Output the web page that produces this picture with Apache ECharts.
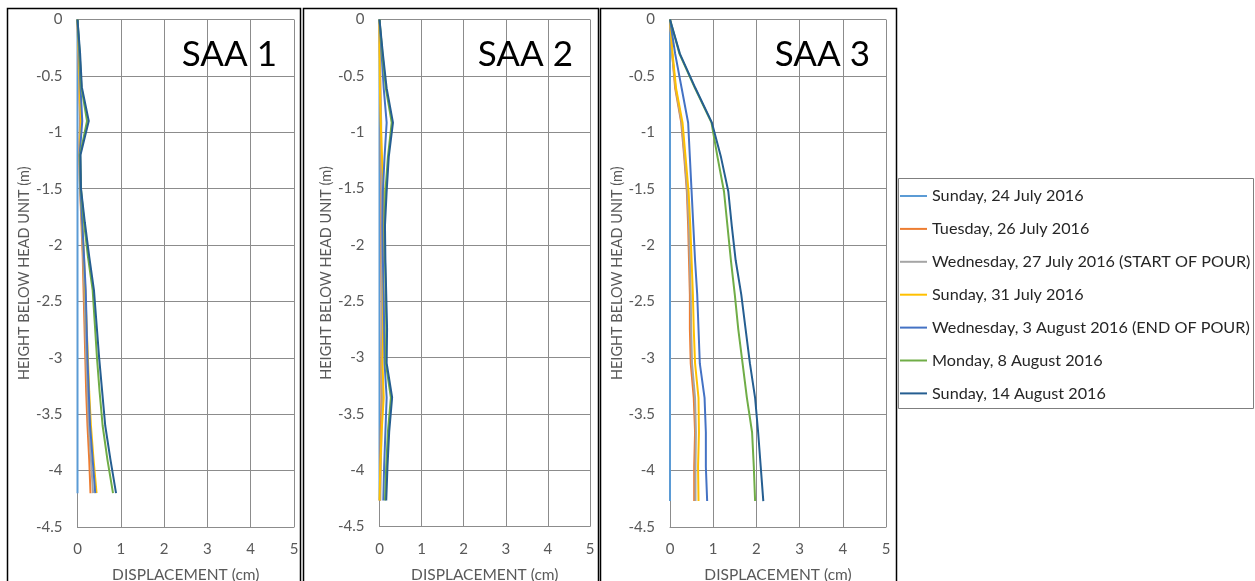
<!DOCTYPE html>
<html>
<head>
<meta charset="utf-8">
<title>SAA displacement profiles</title>
<script src="https://cdn.jsdelivr.net/npm/echarts@6/dist/echarts.min.js"></script>
<style>
  html, body { margin: 0; padding: 0; background: #fff; }
  #chart { width: 1255px; height: 581px; }
</style>
</head>
<body>
<div id="chart"></div>
<script>
// reading dates (legend)
const dateNames = [
  'Sunday, 24 July 2016',
  'Tuesday, 26 July 2016',
  'Wednesday, 27 July 2016 (START OF POUR)',
  'Sunday, 31 July 2016',
  'Wednesday, 3 August 2016 (END OF POUR)',
  'Monday, 8 August 2016',
  'Sunday, 14 August 2016'
];

// depth of each node (m)
const depthsSAA1 = [0, -0.3, -0.6, -0.9, -1.2, -1.5, -1.8, -2.1, -2.4, -2.7, -3.0, -3.3, -3.6, -3.9, -4.2];
const depthsSAA2 = [0, -0.305, -0.61, -0.915, -1.22, -1.525, -1.83, -2.135, -2.44, -2.745, -3.05, -3.355, -3.66, -3.965, -4.27];
const depthsSAA3 = [0, -0.305, -0.61, -0.915, -1.22, -1.525, -1.83, -2.135, -2.44, -2.745, -3.05, -3.355, -3.66, -3.965, -4.27];

// displacement (cm), one row per date, same order as dateNames
const saa1 = [
  [0, 0, 0, 0, 0, 0, 0, 0, 0, 0, 0, 0, 0, 0, 0],
  [0, 0.02, 0.04, 0.06, 0.04, 0.06, 0.09, 0.12, 0.14, 0.16, 0.18, 0.20, 0.23, 0.27, 0.30],
  [0, 0.02, 0.04, 0.07, 0.04, 0.06, 0.10, 0.13, 0.16, 0.18, 0.20, 0.23, 0.26, 0.31, 0.36],
  [0, 0.03, 0.05, 0.08, 0.05, 0.07, 0.11, 0.15, 0.18, 0.21, 0.24, 0.27, 0.31, 0.37, 0.44],
  [0, 0.04, 0.07, 0.11, 0.05, 0.07, 0.11, 0.15, 0.19, 0.21, 0.23, 0.26, 0.29, 0.35, 0.41],
  [0, 0.05, 0.09, 0.22, 0.06, 0.08, 0.15, 0.24, 0.35, 0.40, 0.45, 0.51, 0.58, 0.69, 0.82],
  [0, 0.06, 0.10, 0.26, 0.07, 0.08, 0.17, 0.27, 0.38, 0.44, 0.50, 0.57, 0.64, 0.76, 0.89]
];
const saa2 = [
  [0, 0, 0, 0, 0, 0, 0, 0, 0, 0, 0, 0, 0, 0, 0],
  [0, 0.01, 0.02, 0.03, 0.03, 0.04, 0.04, 0.04, 0.05, 0.05, 0.04, 0.05, 0.03, 0.02, 0.01],
  [0, 0.01, 0.02, 0.04, 0.04, 0.05, 0.05, 0.05, 0.06, 0.06, 0.05, 0.07, 0.05, 0.03, 0.02],
  [0, 0.00, 0.01, 0.03, 0.06, 0.10, 0.09, 0.08, 0.09, 0.09, 0.07, 0.10, 0.05, 0.02, 0.00],
  [0, 0.05, 0.10, 0.17, 0.12, 0.08, 0.07, 0.08, 0.10, 0.11, 0.12, 0.17, 0.14, 0.11, 0.09],
  [0, 0.07, 0.15, 0.29, 0.20, 0.14, 0.12, 0.13, 0.15, 0.16, 0.15, 0.27, 0.20, 0.16, 0.13],
  [0, 0.08, 0.17, 0.32, 0.22, 0.17, 0.13, 0.14, 0.16, 0.18, 0.17, 0.30, 0.23, 0.19, 0.16]
];
const saa3 = [
  [0, 0, 0, 0, 0, 0, 0, 0, 0, 0, 0, 0, 0, 0, 0],
  [0, 0.05, 0.12, 0.26, 0.33, 0.39, 0.42, 0.44, 0.46, 0.46, 0.48, 0.55, 0.58, 0.56, 0.56],
  [0, 0.05, 0.13, 0.27, 0.34, 0.40, 0.44, 0.46, 0.48, 0.49, 0.51, 0.58, 0.60, 0.59, 0.59],
  [0, 0.06, 0.14, 0.29, 0.36, 0.43, 0.47, 0.50, 0.53, 0.55, 0.58, 0.66, 0.67, 0.65, 0.66],
  [0, 0.12, 0.27, 0.42, 0.46, 0.50, 0.54, 0.58, 0.63, 0.66, 0.69, 0.80, 0.83, 0.83, 0.86],
  [0, 0.22, 0.58, 0.96, 1.10, 1.25, 1.33, 1.41, 1.50, 1.58, 1.68, 1.78, 1.90, 1.94, 1.97],
  [0, 0.23, 0.59, 0.97, 1.18, 1.35, 1.43, 1.52, 1.65, 1.75, 1.85, 1.97, 2.04, 2.10, 2.16]
];

const panelTitles = ['SAA 1', 'SAA 2', 'SAA 3'];

const lineColors = ['#5B9BD5', '#ED7D31', '#A5A5A5', '#FFC000', '#4472C4', '#70AD47', '#255E91'];
const font = 'Lato, "Open Sans", sans-serif';
const axisGray = '#595959';
const gridGray = '#8c8c8c';

let myChart = echarts.init(document.getElementById('chart'));

const grids = [
  {left: 77.5, top: 19.5, width: 216.5, height: 507.5, outerBoundsMode: 'none'},
  {left: 379.5, top: 19.5, width: 210.5, height: 507, outerBoundsMode: 'none'},
  {left: 670, top: 19.5, width: 216, height: 507.5, outerBoundsMode: 'none'}
];
const titleRight = [978, 682, 385];

const panels = [
  {depths: depthsSAA1, values: saa1},
  {depths: depthsSAA2, values: saa2},
  {depths: depthsSAA3, values: saa3}
];

let xAxes = [], yAxes = [], series = [], titles = [];
panels.forEach(function (p, i) {
  xAxes.push({
    type: 'value', gridIndex: i, min: 0, max: 5, interval: 1,
    name: 'DISPLACEMENT (cm)', nameLocation: 'middle', nameGap: 40,
    nameTextStyle: {color: axisGray, fontSize: 15.5, fontFamily: font},
    axisLine: {onZero: false, lineStyle: {color: gridGray}},
    axisTick: {show: false},
    axisLabel: {color: axisGray, fontSize: 15, fontFamily: font, margin: 15},
    splitLine: {lineStyle: {color: gridGray, width: 1}}
  });
  yAxes.push({
    type: 'value', gridIndex: i, min: -4.5, max: 0, interval: 0.5,
    name: 'HEIGHT BELOW HEAD UNIT (m)', nameLocation: 'middle', nameGap: 45,
    nameTextStyle: {color: axisGray, fontSize: 14.5, fontFamily: font},
    axisLine: {show: true, onZero: false, lineStyle: {color: gridGray}},
    axisTick: {show: false},
    axisLabel: {color: axisGray, fontSize: 15, fontFamily: font, margin: 15},
    splitLine: {lineStyle: {color: gridGray, width: 1}}
  });
  titles.push({
    text: panelTitles[i], right: titleRight[i], top: 37, padding: 0,
    textStyle: {fontSize: 35, fontWeight: 'normal', fontFamily: font, color: '#000'}
  });
  p.values.forEach(function (vals, k) {
    series.push({
      name: dateNames[k],
      type: 'line',
      xAxisIndex: i,
      yAxisIndex: i,
      symbol: 'none',
      lineStyle: {width: 2, color: lineColors[k]},
      itemStyle: {color: lineColors[k]},
      data: vals.map(function (v, j) { return [v, p.depths[j]]; })
    });
  });
});

let options = {
  animation: false,
  color: lineColors,
  title: titles,
  grid: grids,
  xAxis: xAxes,
  yAxis: yAxes,
  legend: {
    data: dateNames,
    orient: 'vertical',
    left: 900,
    top: 188,
    padding: 0,
    icon: 'rect',
    itemWidth: 27,
    itemHeight: 2,
    itemGap: 16.9,
    textStyle: {color: '#262626', fontSize: 16.2, fontFamily: font}
  },
  graphic: [
    {type: 'rect', shape: {x: 7.5, y: 8.5, width: 293, height: 620}, style: {fill: 'none', stroke: '#000', lineWidth: 1.5}},
    {type: 'rect', shape: {x: 303.5, y: 8.5, width: 295, height: 620}, style: {fill: 'none', stroke: '#000', lineWidth: 1.5}},
    {type: 'rect', shape: {x: 600.5, y: 8.5, width: 296, height: 620}, style: {fill: 'none', stroke: '#000', lineWidth: 1.5}},
    {type: 'rect', shape: {x: 898.5, y: 178.5, width: 355, height: 230}, style: {fill: 'none', stroke: '#7f7f7f', lineWidth: 1}}
  ],
  series: series
};
myChart.setOption(options);
</script>
</body>
</html>
